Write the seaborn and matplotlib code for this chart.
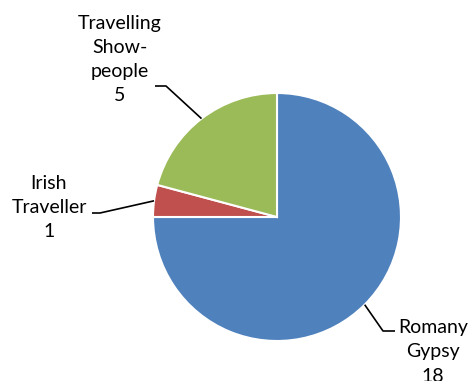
import numpy as np
import matplotlib
matplotlib.use("Agg")
import matplotlib.pyplot as plt
import seaborn as sns

# Ethnic group counts
groups = ["Romany\nGypsy", "Irish\nTraveller", "Travelling\nShow-\npeople"]
counts = [18, 1, 5]
colors = ["#4F81BD", "#C0504D", "#9BBB59"]

sns.set_theme(style="white")
plt.rcParams["font.family"] = ["Lato", "DejaVu Sans"]

W, H, DPI = 470, 381, 100
fig = plt.figure(figsize=(W / DPI, H / DPI), dpi=DPI)
ax = fig.add_axes([0, 0, 1, 1])

# pie centre and radius in pixels
cx, cy, rpx = 277, 217, 124

def px(x, y):
    return ((x - cx) / rpx, (cy - y) / rpx)

wedges, _ = ax.pie(counts, colors=colors, startangle=90, counterclock=False,
                   radius=1.0, center=(0, 0), frame=False,
                   wedgeprops=dict(edgecolor="white", linewidth=1.5))
ax.set_xlim(-cx / rpx, (W - cx) / rpx)
ax.set_ylim(-(H - cy) / rpx, cy / rpx)
ax.set_aspect("equal")
ax.axis("off")

# label layout: (text centre, elbow, line end near text)
layout = [
    dict(text=(433, 352), elbow=(383, 331), end=(395, 331)),
    dict(text=(49, 208), elbow=(100, 213), end=(92, 213)),
    dict(text=(120, 60), elbow=(166, 86), end=(155, 86)),
]

for w, name, n, lay in zip(wedges, groups, counts, layout):
    mid = np.deg2rad((w.theta1 + w.theta2) / 2)
    p0 = (np.cos(mid), np.sin(mid))
    e = px(*lay["elbow"])
    t = px(*lay["end"])
    ax.plot([p0[0], e[0], t[0]], [p0[1], e[1], t[1]], color="black",
            lw=1.2, solid_capstyle="butt")
    tx, ty = px(*lay["text"])
    ax.text(tx, ty, f"{name}\n{n}", ha="center", va="center",
            fontsize=14, linespacing=1.5, color="#000000")

fig.savefig("out.png", dpi=DPI)
